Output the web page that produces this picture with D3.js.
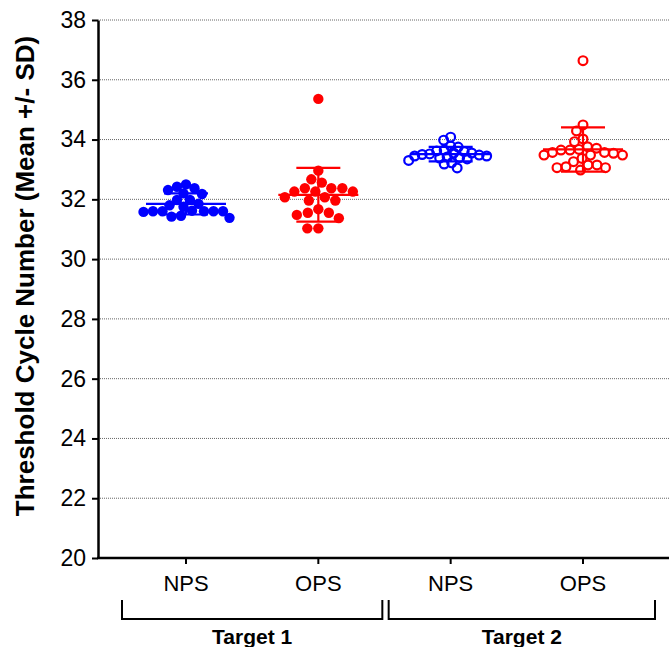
<!DOCTYPE html>
<html>
<head>
<meta charset="utf-8">
<script src="https://cdn.jsdelivr.net/npm/d3@7"></script>
<style>
  body { margin: 0; background: #fff; }
  text { font-family: "Liberation Sans", Arial, sans-serif; }
</style>
</head>
<body>
<svg id="chart"></svg>
<script>
// Data
var groups = ["T1-NPS", "T1-OPS", "T2-NPS", "T2-OPS"];
var groupLabels = ["NPS", "OPS", "NPS", "OPS"];
var targets = ["Target 1", "Target 2"];
var yTicks = [20, 22, 24, 26, 28, 30, 32, 34, 36, 38];

var t1Nps = [32.50, 32.42, 32.37, 32.31, 32.20, 32.18, 31.98, 31.98, 31.85, 31.80, 31.75,
             31.62, 31.60, 31.60, 31.60, 31.60, 31.60, 31.58, 31.45, 31.42, 31.38];
var t1Ops = [35.36, 32.96, 32.67, 32.56, 32.37, 32.37, 32.37, 32.26, 32.26, 32.26, 32.07,
             32.07, 31.96, 31.96, 31.67, 31.55, 31.55, 31.48, 31.37, 31.03, 31.03];
var t2Nps = [34.08, 33.98, 33.78, 33.75, 33.65, 33.62, 33.60, 33.55, 33.55, 33.52, 33.50,
             33.48, 33.45, 33.45, 33.42, 33.40, 33.38, 33.35, 33.30, 33.22, 33.18, 33.05];
var t2Ops = [36.64, 34.49, 34.29, 34.02, 33.93, 33.76, 33.71, 33.67, 33.65, 33.65, 33.57, 33.57,
             33.54, 33.48, 33.48, 33.48, 33.37, 33.26, 33.15, 33.15, 33.09, 33.06, 33.06, 32.98];

var series = [
  {key: "T1-NPS", values: t1Nps, color: "#0000ff", open: false, gap: 9.2},
  {key: "T1-OPS", values: t1Ops, color: "#ff0000", open: false, gap: 11},
  {key: "T2-NPS", values: t2Nps, color: "#0000ff", open: true, gap: 7.4},
  {key: "T2-OPS", values: t2Ops, color: "#ff0000", open: true, gap: 8.8}
];

//Measurements
var width = 669;
var height = 647;
var plotLeft = 98, plotTop = 20, plotBottom = 558;
var r = 5.2;

var svg = d3.select('#chart')
    .attr('width', width)
    .attr('height', height);

var yScale = d3.scaleLinear()
    .domain([20, 38])
    .range([plotBottom, plotTop]);

var xScale = d3.scalePoint()
    .domain(groups)
    .range([186, 583]);

//Grid lines (dotted)
svg.append('g')
  .selectAll('line')
  .data(yTicks.filter(function(d) { return d > 20; }))
  .enter()
  .append('line')
    .attr('x1', plotLeft)
    .attr('x2', width)
    .attr('y1', d => yScale(d))
    .attr('y2', d => yScale(d))
    .attr('stroke', '#666')
    .attr('stroke-width', 1)
    .attr('stroke-dasharray', '1,1');

//y-Axis
var yAxis = d3.axisLeft(yScale)
    .tickValues(yTicks)
    .tickSize(6)
    .tickPadding(6)
    .tickSizeOuter(0);

var gy = svg.append('g')
    .attr('transform', 'translate(' + plotLeft + ',0)')
    .call(yAxis);
gy.select('.domain').attr('stroke', '#000').attr('stroke-width', 2.5);
gy.selectAll('.tick line').attr('stroke-width', 2);
gy.selectAll('.tick text')
    .style('font-size', '23px')
    .attr('fill', '#000');

//x-Axis line and ticks
svg.append('line')
    .attr('x1', plotLeft - 1)
    .attr('x2', width)
    .attr('y1', plotBottom)
    .attr('y2', plotBottom)
    .attr('stroke', '#000')
    .attr('stroke-width', 2.5);

svg.append('g')
  .selectAll('line')
  .data(groups)
  .enter()
  .append('line')
    .attr('x1', d => xScale(d))
    .attr('x2', d => xScale(d))
    .attr('y1', plotBottom)
    .attr('y2', plotBottom + 6)
    .attr('stroke', '#000')
    .attr('stroke-width', 2);

svg.append('g')
  .selectAll('text')
  .data(groups)
  .enter()
  .append('text')
    .attr('x', d => xScale(d))
    .attr('y', 591)
    .attr('text-anchor', 'middle')
    .style('font-size', '22px')
    .text((d, i) => groupLabels[i]);

//Brackets for targets
var brackets = [
  {label: targets[0], a: groups[0], b: groups[1]},
  {label: targets[1], a: groups[2], b: groups[3]}
];
var bTop = 600, bBot = 619;
brackets.forEach(function(b, i) {
  var x0 = xScale(b.a) - (i === 0 ? 64 : 62);
  var x1 = xScale(b.b) + (i === 0 ? 64 : 72);
  svg.append('path')
      .attr('d', 'M' + x0 + ',' + bTop + 'V' + bBot + 'H' + x1 + 'V' + bTop)
      .attr('fill', 'none')
      .attr('stroke', '#000')
      .attr('stroke-width', 2);
  svg.append('text')
      .attr('x', (x0 + x1) / 2)
      .attr('y', 644)
      .attr('text-anchor', 'middle')
      .style('font-size', '21px')
      .style('font-weight', 'bold')
      .text(b.label);
});

//Axis title
svg.append('text')
    .attr('transform', 'translate(34,276) rotate(-90)')
    .attr('text-anchor', 'middle')
    .style('font-size', '26px')
    .style('font-weight', 'bold')
    .text('Threshold Cycle Number (Mean +/- SD)');

//Simple beeswarm: place each dot as close to the centre as it can go
function swarm(vals, D) {
  var pts = vals.map(v => ({v: v, py: yScale(v)}))
      .sort((a, b) => a.py - b.py);
  var placed = [];
  pts.forEach(function(p) {
    for (var k = 0; k < 2000; k++) {
      var off = (k % 2 ? -1 : 1) * Math.ceil(k / 2) * 0.5;
      var ok = placed.every(q => Math.hypot(q.off - off, q.py - p.py) >= D);
      if (ok) { p.off = off; break; }
    }
    placed.push(p);
  });
  return placed;
}

series.forEach(function(s) {
  var cx = xScale(s.key);
  var pts = swarm(s.values, s.gap);
  var g = svg.append('g');

  g.selectAll('circle')
    .data(pts)
    .enter()
    .append('circle')
      .attr('cx', d => cx + d.off)
      .attr('cy', d => d.py)
      .attr('r', s.open ? r - 0.8 : r)
      .attr('fill', s.open ? '#fff' : s.color)
      .attr('fill-opacity', s.open ? 0 : 1)
      .attr('stroke', s.color)
      .attr('stroke-width', s.open ? 2.2 : 0);

  //Mean and SD
  var m = d3.mean(s.values);
  var sd = d3.deviation(s.values);
  var lines = [
    [cx - 40, yScale(m), cx + 40, yScale(m)],
    [cx - 22, yScale(m + sd), cx + 22, yScale(m + sd)],
    [cx - 22, yScale(m - sd), cx + 22, yScale(m - sd)],
    [cx, yScale(m + sd), cx, yScale(m - sd)]
  ];
  g.selectAll('line')
    .data(lines)
    .enter()
    .append('line')
      .attr('x1', d => d[0])
      .attr('y1', d => d[1])
      .attr('x2', d => d[2])
      .attr('y2', d => d[3])
      .attr('stroke', s.color)
      .attr('stroke-width', 2.2);
});
</script>
</body>
</html>
